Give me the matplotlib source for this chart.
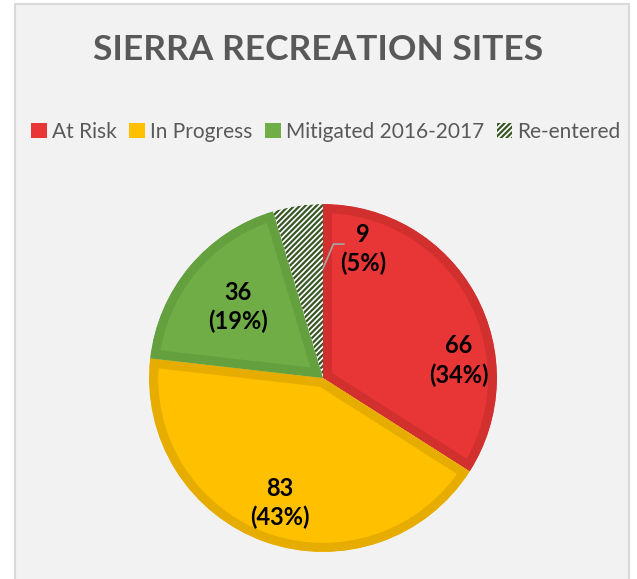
import matplotlib.pyplot as plt
from matplotlib.patches import Patch, Rectangle

# data
categories = ["At Risk", "In Progress", "Mitigated 2016-2017", "Re-entered"]
counts = [66, 83, 36, 9]
percents = ["34%", "43%", "19%", "5%"]

face_colors = ["#e83535", "#ffc000", "#70ad47", "#ffffff"]
edge_colors = ["#d22f2f", "#e6ac00", "#64a03d", "#ffffff"]
hatch_color = "#375623"

# label centres (data units, pie radius = 1)
label_pos = [(0.78, 0.10), (-0.25, -0.72), (-0.49, 0.41), (0.23, 0.74)]

plt.rcParams["font.family"] = ["Lato", "DejaVu Sans"]
plt.rcParams["hatch.linewidth"] = 1.6

W, H = 637, 579
fig = plt.figure(figsize=(W / 100, H / 100), dpi=100, facecolor="white")

# chart area background + border
fig.patches.append(Rectangle((15 / W, -0.01), 614 / W, 1 - 4 / H + 0.01,
                             transform=fig.transFigure, facecolor="#f2f2f2",
                             edgecolor="#d9d9d9", linewidth=1.5, zorder=-5))

# pie axes: centre at (323, 378) px, radius 174 px
cx, cy, half = 323, H - 378, 200
ax = fig.add_axes([(cx - half) / W, (cy - half) / H, 2 * half / W, 2 * half / H])
ax.set_zorder(2)

wedges, _ = ax.pie(counts, startangle=90, counterclock=False,
                   colors=face_colors, radius=1,
                   wedgeprops=dict(linewidth=13, joinstyle="miter"))

ax.set_xlim(-1.15, 1.15)
ax.set_ylim(-1.15, 1.15)
ax.set_aspect("equal")
ax.axis("off")

# inner border: thick edge clipped to the wedge itself
for w, ec in zip(wedges, edge_colors):
    w.set_edgecolor(ec)
    w.set_clip_on(True)
    w.set_clip_path(w)

# hatched slice
wedges[3].set_hatch("//////")
wedges[3].set_edgecolor(hatch_color)
wedges[3].set_linewidth(0)

for (x, y), c, p in zip(label_pos, counts, percents):
    ax.text(x, y, f"{c}\n({p})", ha="center", va="center", fontsize=17,
            fontweight="bold", color="black", linespacing=1.3)

# leader line for the small slice
ax.plot([0.0, 0.06, 0.12], [0.63, 0.77, 0.77], color="#a6a6a6", lw=1.2)

fig.text(0.5, 1 - 50 / H, "SIERRA RECREATION SITES", ha="center", va="center",
         fontsize=25.5, fontweight="bold", color="#595959")

handles = [Patch(facecolor=face_colors[0], edgecolor="none"),
           Patch(facecolor=face_colors[1], edgecolor="none"),
           Patch(facecolor=face_colors[2], edgecolor="none"),
           Patch(facecolor="white", edgecolor=hatch_color, hatch="//////", linewidth=0)]
fig.legend(handles, categories, loc="center", bbox_to_anchor=(0.512, 1 - 132 / H),
           ncol=4, frameon=False, fontsize=15, labelcolor="#595959",
           handlelength=0.75, handleheight=0.75, handletextpad=0.25,
           columnspacing=0.6)

fig.savefig("out.png", dpi=100, facecolor="white")
